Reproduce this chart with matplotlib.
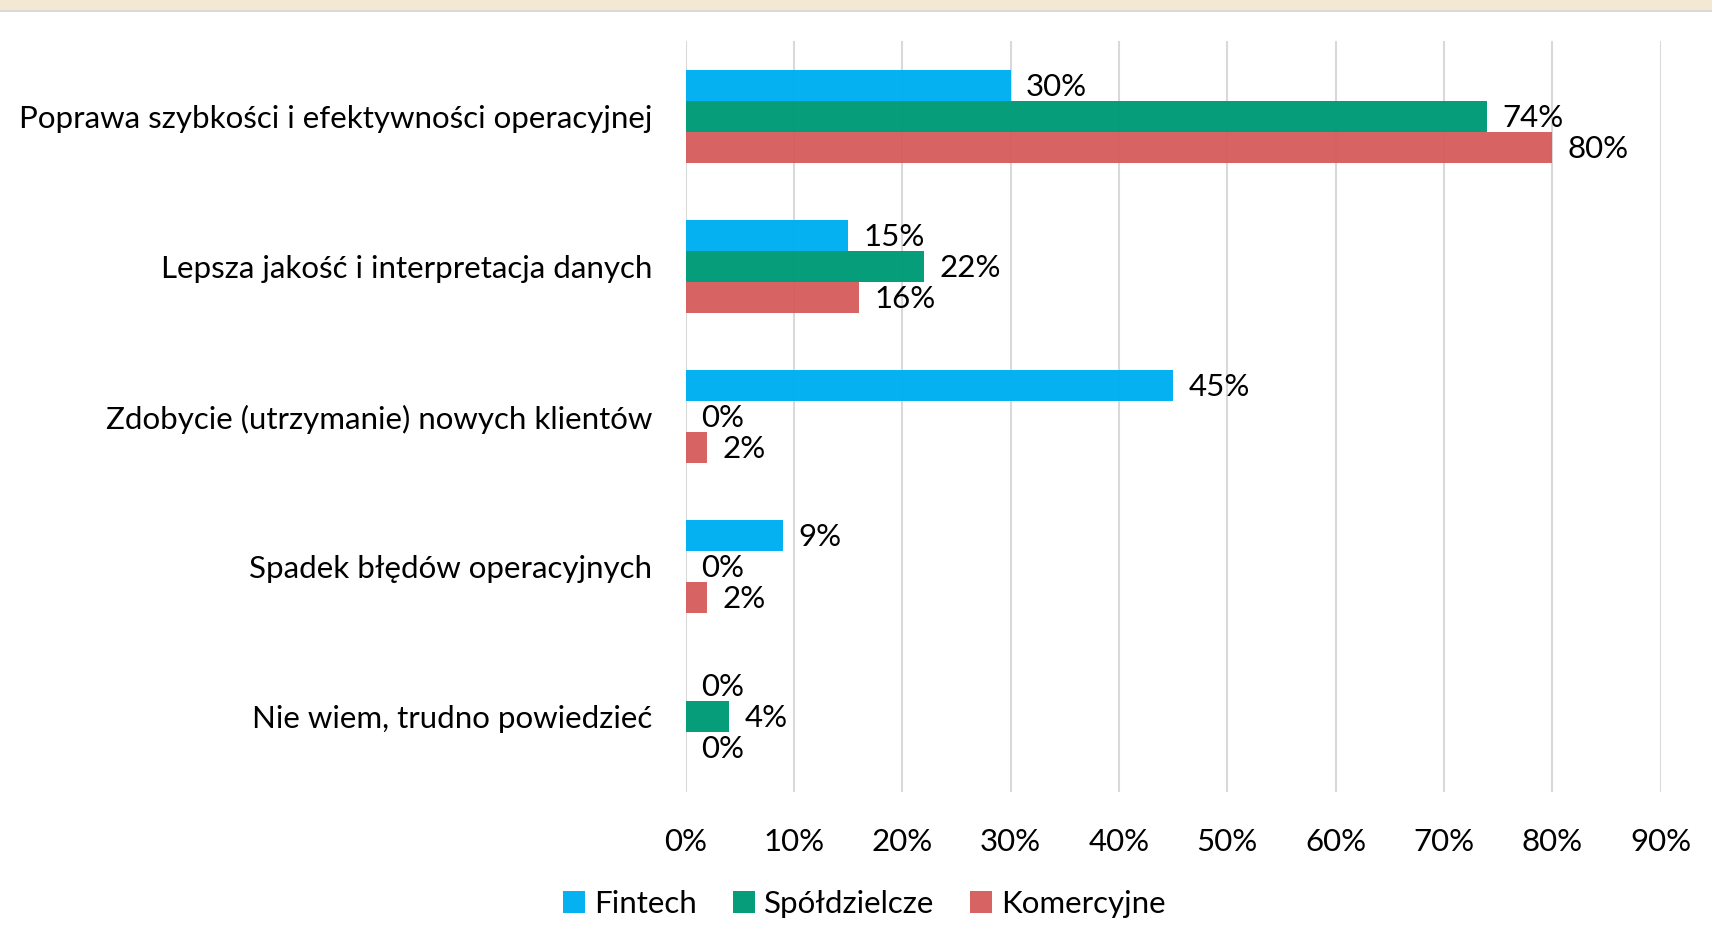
import numpy as np
import matplotlib.pyplot as plt
from matplotlib.patches import Rectangle

plt.rcParams['font.family'] = ['Lato', 'DejaVu Sans']

categories = ['Poprawa szybkości i efektywności operacyjnej',
              'Lepsza jakość i interpretacja danych',
              'Zdobycie (utrzymanie) nowych klientów',
              'Spadek błędów operacyjnych',
              'Nie wiem, trudno powiedzieć']
series_names = ['Fintech', 'Spółdzielcze', 'Komercyjne']
fintech = [30, 15, 45, 9, 0]
spoldzielcze = [74, 22, 0, 0, 4]
komercyjne = [80, 16, 2, 2, 0]
xticks = [0, 10, 20, 30, 40, 50, 60, 70, 80, 90]

colors = ['#00B0F0', '#009B77', '#D55B5B']
values = [fintech, spoldzielcze, komercyjne]

fig = plt.figure(figsize=(17.12, 9.43), dpi=100)
fig.patch.set_facecolor('white')

# beige strip on top
fig.patches.append(Rectangle((0, 1 - 10 / 943), 1, 10 / 943, transform=fig.transFigure,
                             facecolor='#F3E8D3', edgecolor='none'))
fig.patches.append(Rectangle((0, 1 - 12 / 943), 1, 2 / 943, transform=fig.transFigure,
                             facecolor='#D9D9D9', edgecolor='none'))

ax = fig.add_axes([0.4005, 0.1606, 0.5695, 0.7954])

fs = 22.5
y = np.arange(len(categories))
h = 0.206
for i, (vals, c) in enumerate(zip(values, colors)):
    pos = y + (i - 1) * h
    ax.barh(pos, vals, height=h, color=c, alpha=0.98 if i < 2 else 0.95, label=series_names[i], zorder=3)
    for p, v in zip(pos, vals):
        ax.annotate(f'{v}%', xy=(v, p), xytext=(11, -1), textcoords='offset points',
                    va='center', ha='left', fontsize=fs, color='black', zorder=4)

ax.set_xlim(0, 90)
ax.set_ylim(4.5, -0.5)
ax.set_xticks(xticks)
ax.set_xticklabels([f'{t}%' for t in xticks], fontsize=fs)
ax.set_yticks(y)
ax.set_yticklabels(categories, fontsize=fs)
ax.tick_params(axis='both', length=0)
ax.tick_params(axis='x', pad=26)
ax.tick_params(axis='y', pad=24)
ax.grid(axis='x', color='#D9D9D9', linewidth=1.5, zorder=0)
for s in ax.spines.values():
    s.set_visible(False)

fig.legend(loc='center', bbox_to_anchor=(0.505, 0.041), ncol=3, frameon=False,
           fontsize=fs, handlelength=0.7, handleheight=0.7, handletextpad=0.3,
           columnspacing=1.15)

fig.savefig('out.png', dpi=100)
